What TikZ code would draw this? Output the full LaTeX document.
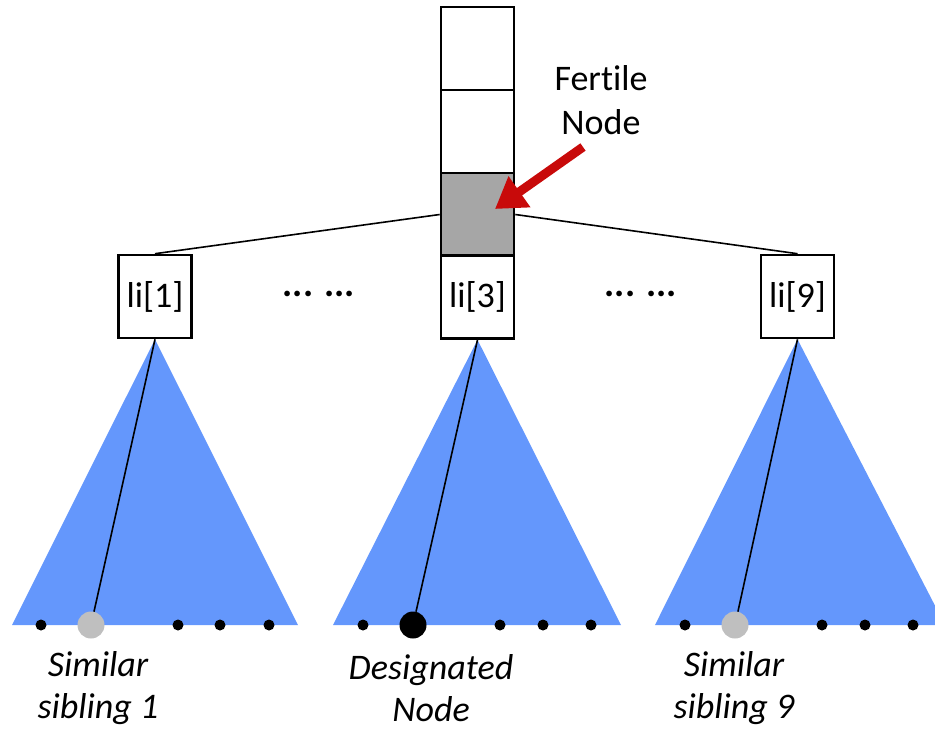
\documentclass[tikz,border=0pt]{standalone}
\usepackage{fontspec}
\setmainfont[Ligatures=CommonOff]{Carlito}
\usetikzlibrary{arrows.meta,calc}
\definecolor{treeblue}{RGB}{100,151,252}
\definecolor{slotgray}{RGB}{166,166,166}
\definecolor{leafgray}{RGB}{191,191,191}
\definecolor{arrowred}{RGB}{200,10,10}
\begin{document}
\begin{tikzpicture}[x=1pt,y=-1pt,
  slot/.style={draw=black,line width=2.6pt,minimum width=73pt,minimum height=83pt,inner sep=0pt,
    font=\fontsize{36}{42}\selectfont},
  link/.style={draw=black,line width=1.6pt},
  leaf/.style={circle,fill=black,minimum size=11pt,inner sep=0pt},
  bigleaf/.style={circle,minimum size=27pt,inner sep=0pt},
  caption/.style={align=center,font=\fontsize{36}{42}\selectfont\itshape},
  gap/.style={font=\fontsize{38}{42}\selectfont\bfseries},
  tree/.style={fill=treeblue,draw=none}]
\useasboundingbox (0,0) rectangle (935,729);

% the column of slots above li[3]
\node[slot] (c1) at (477.5,48.5) {};
\node[slot] (c2) at (477.5,131.5) {};
\node[slot,fill=slotgray] (g) at (477.5,214.5) {};
\node[slot] (l3) at (477.5,297) {li[3]};
\node[slot] (l1) at (155,296.5) {li[1]};
\node[slot] (l9) at (797.5,296.5) {li[9]};

% dotted gaps between the list items
\node[gap] (d1) at (319,294) {... ...};
\node[gap] (d2) at (641,294) {... ...};

% links from the fertile slot to the outer items
\draw[link] (g.west) -- (l1.north);
\draw[link] (g.east) -- (l9.north);

% fertile node label and pointer
\node[font=\fontsize{36}{44}\selectfont,align=center] (fn) at (601,100) {Fertile\\Node};
\coordinate (tail) at (583,147);
\coordinate (tip) at (495,209);
\draw[arrowred,line width=9pt,-{Triangle[length=30pt,width=36pt]}] (tail) -- (tip);

% subtrees
\coordinate (a1) at (l1.south);
\coordinate (a3) at (l3.south);
\coordinate (a9) at (l9.south);
\fill[tree] (a1) -- (298,625) -- (12,625) -- cycle;
\fill[tree] (a3) -- (621,625) -- (333,625) -- cycle;
\fill[tree] (a9) -- (945,625) -- (655,625) -- cycle;

% leaves of subtree 1
\node[leaf] at (41,625) {};
\node[bigleaf,fill=leafgray] (s1) at (91,625) {};
\node[leaf] at (178,625) {};
\node[leaf] at (220,625) {};
\node[leaf] at (269,625) {};
% leaves of subtree 3
\node[leaf] at (363,625) {};
\node[bigleaf,fill=black] (dn) at (413,625) {};
\node[leaf] at (500,625) {};
\node[leaf] at (543,625) {};
\node[leaf] at (591,625) {};
% leaves of subtree 9
\node[leaf] at (685,625) {};
\node[bigleaf,fill=leafgray] (s9) at (735,625) {};
\node[leaf] at (822,625) {};
\node[leaf] at (865,625) {};
\node[leaf] at (913,625) {};

% paths down to the marked leaves
\draw[link] (a1) -- (s1);
\draw[link] (a3) -- (dn);
\draw[link] (a9) -- (s9);

% captions
\node[caption] (t1) at (98,688) {Similar\\sibling 1};
\node[caption] (t3) at (431,688) {Designated\\Node};
\node[caption] (t9) at (734,688) {Similar\\sibling 9};
\end{tikzpicture}
\end{document}
